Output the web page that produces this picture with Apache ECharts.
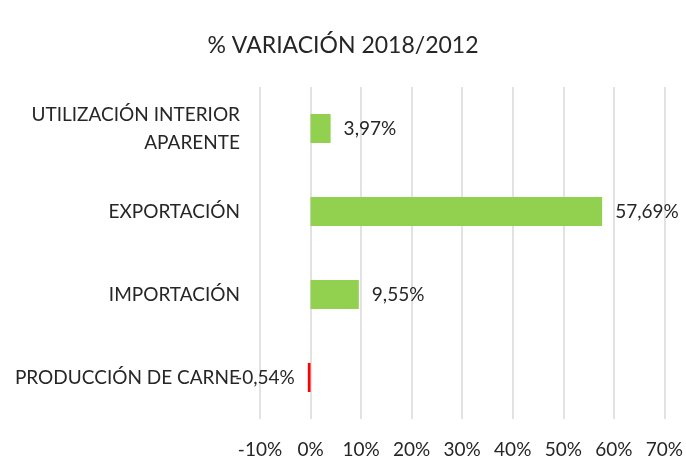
<!DOCTYPE html>
<html>
<head>
<meta charset="utf-8">
<script src="https://cdn.jsdelivr.net/npm/echarts@6/dist/echarts.min.js"></script>
<style>
  html, body { margin: 0; padding: 0; background: #fff; }
  #chart { width: 686px; height: 473px; }
</style>
</head>
<body>
<div id="chart"></div>
<script>
// categories, bottom to top (ECharts draws the first one at the bottom)
var categories = ['PRODUCCIÓN DE CARNE', 'IMPORTACIÓN', 'EXPORTACIÓN', 'UTILIZACIÓN INTERIOR\nAPARENTE'];
var variation = [-0.54, 9.55, 57.69, 3.97];
var tickMin = -10;
var tickMax = 70;
var tickStep = 10;

var chart = echarts.init(document.getElementById('chart'));

function pct(v) {
  return v.toFixed(2).replace('.', ',') + '%';
}

chart.setOption({
  animation: false,
  textStyle: { fontFamily: 'Lato, "Open Sans", sans-serif' },
  title: {
    text: '% VARIACIÓN 2018/2012',
    left: 'center',
    top: 29,
    textStyle: { fontSize: 23, fontWeight: 'normal', color: '#262626', fontFamily: 'Lato, sans-serif' }
  },
  grid: { left: 260, right: 20, top: 87, height: 332 },
  xAxis: {
    type: 'value',
    min: tickMin,
    max: tickMax,
    interval: tickStep,
    axisLine: { show: false },
    axisTick: { show: false },
    splitLine: { lineStyle: { color: '#d9d9d9', width: 1.5 } },
    axisLabel: {
      margin: 21,
      fontSize: 19,
      color: '#262626',
      formatter: function (v) { return v + '%'; }
    }
  },
  yAxis: {
    type: 'category',
    data: categories,
    axisLine: { show: false },
    axisTick: { show: false },
    axisLabel: { margin: 20, fontSize: 19, color: '#262626', lineHeight: 28, align: 'right' }
  },
  series: [{
    type: 'bar',
    barCategoryGap: '65%',
    data: variation.map(function (v) {
      return {
        value: v,
        itemStyle: { color: v < 0 ? '#ff0000' : '#92d050' },
        label: { position: v < 0 ? 'left' : 'right' }
      };
    }),
    label: {
      show: true,
      distance: 13,
      fontSize: 19,
      color: '#262626',
      formatter: function (p) { return pct(p.value); }
    }
  }]
});
</script>
</body>
</html>
